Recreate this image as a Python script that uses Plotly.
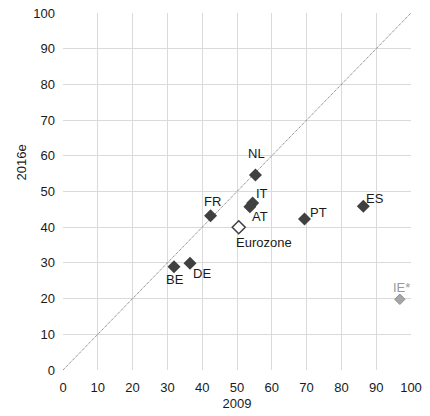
import plotly.graph_objects as go

# Data (share, %)
countries = ["NL", "FR", "IT", "AT", "PT", "ES", "BE", "DE"]
y2009 = [55.3, 42.4, 54.5, 53.7, 69.4, 86.3, 31.9, 36.5]
y2016e = [54.6, 43.2, 46.8, 45.7, 42.3, 45.9, 28.9, 29.9]
# label offsets in pixels (dx, dy up)
label_dx = [1, 2, 9, 10, 14, 12, 1, 12]
label_dy = [22, 14, 9, -10, 6, 8, -13, -10]

ez_name = "Eurozone"
ez_2009 = [50.5]
ez_2016e = [40.0]

ie_name = "IE*"
ie_2009 = [96.8]
ie_2016e = [19.8]

x_title = "2009"
y_title = "2016e"

ticks = list(range(0, 101, 10))
diag = [0, 100]

font_family = "Liberation Sans, Arial, sans-serif"
dark = "#404040"

fig = go.Figure()
fig.add_trace(go.Scatter(x=diag, y=diag, mode="lines",
                         line=dict(color="#404040", width=0.8, dash="1px,1px"),
                         hoverinfo="skip", showlegend=False))
fig.add_trace(go.Scatter(x=y2009, y=y2016e, mode="markers",
                         marker=dict(symbol="diamond", size=10, color=dark),
                         text=countries, showlegend=False))
fig.add_trace(go.Scatter(x=ez_2009, y=ez_2016e, mode="markers",
                         marker=dict(symbol="diamond", size=10, color="white",
                                     line=dict(color=dark, width=1.5)),
                         showlegend=False))
fig.add_trace(go.Scatter(x=ie_2009, y=ie_2016e, mode="markers",
                         marker=dict(symbol="diamond", size=8, color="#a6a6a6",
                                     line=dict(color="#8c8c8c", width=1)),
                         showlegend=False))

annots = []
for c, x, y, dx, dy in zip(countries, y2009, y2016e, label_dx, label_dy):
    annots.append(dict(x=x, y=y, text=c, showarrow=False, xshift=dx, yshift=dy,
                       font=dict(size=13, color="#1a1a1a", family=font_family)))
annots.append(dict(x=ez_2009[0], y=ez_2016e[0], text=ez_name, showarrow=False,
                   xshift=25, yshift=-15,
                   font=dict(size=13, color="#1a1a1a", family=font_family)))
annots.append(dict(x=ie_2009[0], y=ie_2016e[0], text=ie_name, showarrow=False,
                   xshift=2, yshift=12,
                   font=dict(size=13, color="#999999", family=font_family)))
# y-axis title (placed as in the reference, above the vertical centre)
annots.append(dict(xref="paper", yref="paper", x=0, y=0.5, text=y_title,
                   textangle=-90, showarrow=False, xanchor="center", yanchor="middle",
                   xshift=-42, yshift=29,
                   font=dict(size=13, color="#1a1a1a", family=font_family)))

axis_common = dict(range=[0, 100], tickvals=ticks, showgrid=True,
                   gridcolor="#dadada", gridwidth=1, zeroline=False,
                   showline=False, ticks="", tickfont=dict(size=13, color="#1a1a1a"),
                   fixedrange=True, automargin=False, ticklabeloverflow="allow")

fig.update_layout(
    width=422, height=408,
    margin=dict(l=55, r=19, t=5, b=46),
    plot_bgcolor="white", paper_bgcolor="white",
    font=dict(family=font_family, size=13, color="#1a1a1a"),
    xaxis=dict(axis_common, ticklabelstandoff=8,
               title=dict(text=x_title, standoff=4, font=dict(size=13))),
    yaxis=dict(axis_common, ticklabelstandoff=7),
    annotations=annots,
    showlegend=False,
)

fig.write_html("out.html")
